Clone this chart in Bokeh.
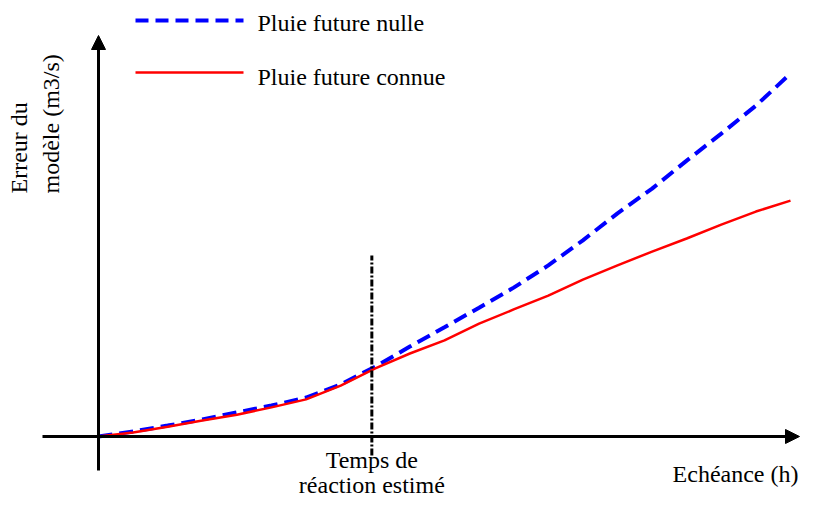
from math import pi
from bokeh.plotting import figure
from bokeh.models import Range1d, Arrow, NormalHead, Label
from bokeh.embed import file_html
from bokeh.resources import INLINE

# ---------------- data ----------------
echeance = [0.0, 0.5, 1.0, 1.5, 2.0, 2.5, 3.0, 3.5, 4.0, 4.5, 5.0,
            5.5, 6.0, 6.5, 7.0, 7.5, 8.0, 8.5, 9.0, 9.5, 10.0]
erreur_pluie_nulle = [0.00, 0.14, 0.30, 0.47, 0.66, 0.85, 1.07, 1.43, 1.92, 2.47, 3.00,
                      3.54, 4.09, 4.70, 5.39, 6.13, 6.81, 7.58, 8.32, 9.09, 9.97]
erreur_pluie_connue = [0.00, 0.11, 0.27, 0.44, 0.60, 0.80, 1.02, 1.40, 1.87, 2.28, 2.64,
                       3.10, 3.49, 3.87, 4.31, 4.70, 5.08, 5.44, 5.82, 6.18, 6.48]
temps_reaction = [3.95]
serie_labels = ["Pluie future nulle", "Pluie future connue"]
x_label = "Echéance (h)"
y_label_lines = ["Erreur du", "modèle (m3/s)"]
reaction_label_lines = ["Temps de", "réaction estimé"]

# ---------------- layout helpers (picture pixels -> data units) ----------------
W, H = 800, 500
OX, OY = 98.0, 436.0      # origin in picture pixels
SX, SY = 69.2, 36.4       # pixels per unit
TS = 9                    # text baseline correction (pixels)


def dx(px):
    return (px - OX) / SX


def dy(py):
    return (OY - py) / SY


FONT = "Liberation Serif"
BLUE = "#0000FF"
RED = "#FF0000"

p = figure(width=W, height=H, output_backend="svg", toolbar_location=None,
           x_range=Range1d(dx(0), dx(W)), y_range=Range1d(dy(H), dy(0)),
           min_border=0, min_border_left=0, min_border_right=0,
           min_border_top=0, min_border_bottom=0)
p.axis.visible = False
p.grid.visible = False
p.outline_line_color = None
p.background_fill_color = "white"
p.border_fill_color = "white"

# axes with arrows
p.add_layout(Arrow(x_start=0, y_start=dy(470), x_end=0, y_end=dy(35),
                   line_width=3, line_color="black",
                   end=NormalHead(size=14, fill_color="black", line_color="black", line_width=1)))
p.add_layout(Arrow(x_start=dx(42), y_start=0, x_end=dx(799), y_end=0,
                   line_width=3, line_color="black",
                   end=NormalHead(size=14, fill_color="black", line_color="black", line_width=1)))

# curves
p.line(echeance, erreur_pluie_nulle, line_color=BLUE, line_width=4, line_dash="14 7")
p.line(echeance, erreur_pluie_connue, line_color=RED, line_width=2.5)

# reaction time marker
p.line([temps_reaction[0], temps_reaction[0]], [dy(455), dy(255)],
       line_color="black", line_width=3, line_dash="7 2 2 2")

# legend (free-form as in the original)
p.line([dx(135), dx(243)], [dy(20), dy(20)], line_color=BLUE, line_width=4, line_dash="13 7")
p.line([dx(135), dx(243)], [dy(72), dy(72)], line_color=RED, line_width=2.5)
for lab, base in zip(serie_labels, [31, 85]):
    p.add_layout(Label(x=dx(257), y=dy(base - TS), text=lab, text_font=FONT,
                       text_font_size="24px", text_color="black",
                       text_align="left", text_baseline="alphabetic"))

# y label (rotated, two lines)
for lab, xb in zip(y_label_lines, [27, 59]):
    p.add_layout(Label(x=dx(xb - TS), y=dy(193), text=lab, angle=pi / 2, text_font=FONT,
                       text_font_size="24px", text_color="black",
                       text_align="left", text_baseline="alphabetic"))

# x label
p.add_layout(Label(x=dx(798), y=dy(482 - TS), text=x_label, text_font=FONT,
                   text_font_size="24px", text_color="black",
                   text_align="right", text_baseline="alphabetic"))

# reaction time label
for lab, base in zip(reaction_label_lines, [468, 493]):
    p.add_layout(Label(x=temps_reaction[0], y=dy(base - TS), text=lab, text_font=FONT,
                       text_font_size="24px", text_color="black",
                       text_align="center", text_baseline="alphabetic"))

open("out.html", "w").write(file_html(p, INLINE))
